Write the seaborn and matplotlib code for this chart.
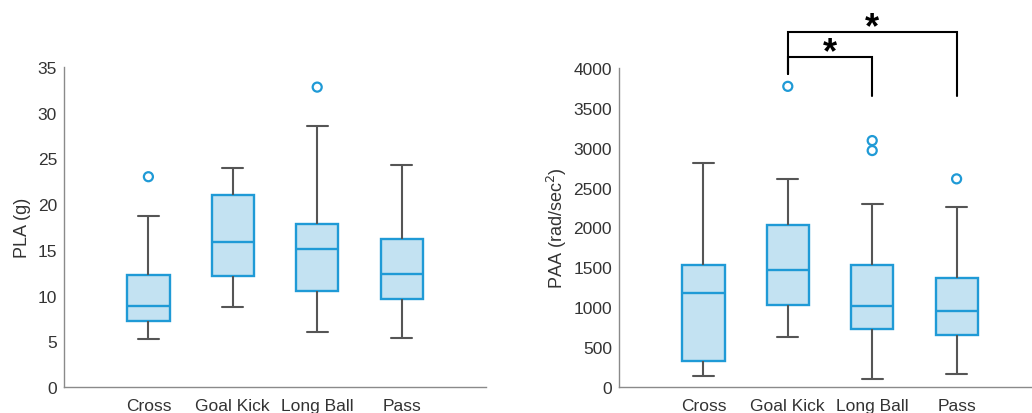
import numpy as np
import pandas as pd
import matplotlib
matplotlib.use("Agg")
import matplotlib.pyplot as plt
import seaborn as sns

categories = ["Cross", "Goal Kick", "Long Ball", "Pass"]

# PLA (g) box statistics
pla_low = [5.3, 8.8, 6.0, 5.4]
pla_q1 = [7.2, 12.1, 10.5, 9.6]
pla_med = [8.9, 15.9, 15.1, 12.4]
pla_q3 = [12.2, 21.0, 17.8, 16.2]
pla_high = [18.7, 23.9, 28.6, 24.3]
pla_out_cat = ["Cross", "Long Ball"]
pla_out_val = [23.0, 32.8]

# PAA (rad/sec^2) box statistics
paa_low = [135, 630, 105, 160]
paa_q1 = [320, 1030, 730, 650]
paa_med = [1175, 1465, 1010, 950]
paa_q3 = [1530, 2035, 1525, 1365]
paa_high = [2810, 2610, 2295, 2255]
paa_out_cat = ["Goal Kick", "Long Ball", "Long Ball", "Pass"]
paa_out_val = [3770, 3090, 2965, 2610]

# significance brackets
sig_from = ["Goal Kick", "Goal Kick"]
sig_to = ["Long Ball", "Pass"]
sig_bar = [4140, 4450]
sig_start = [3920, 3920]
sig_end = [3645, 3645]
sig_label = ["*", "*"]

EDGE = "#1f9ad6"
FILL = "#c3e2f2"
WHISK = "#555555"
SPINE = "#8a8a8a"
TXT = "#333333"

sns.set_style("white")
plt.rcParams["font.family"] = ["Liberation Sans", "DejaVu Sans"]


def long_df(low, q1, med, q3, high):
    rows = []
    for i, c in enumerate(categories):
        for v in (low[i], q1[i], med[i], q3[i], high[i]):
            rows.append((c, v))
    return pd.DataFrame(rows, columns=["cat", "val"])


def draw(ax, df, out_cat, out_val, ylim, yticks, ylabel):
    sns.boxplot(data=df, x="cat", y="val", order=categories, ax=ax,
                width=0.5, whis=(0, 100), fliersize=0, linewidth=1.6,
                boxprops=dict(facecolor=FILL, edgecolor=EDGE, linewidth=1.7),
                medianprops=dict(color=EDGE, linewidth=1.7),
                whiskerprops=dict(color=WHISK, linewidth=1.5),
                capprops=dict(color=WHISK, linewidth=1.5))
    n0 = len(ax.collections)
    odf = pd.DataFrame({"cat": out_cat, "val": out_val})
    sns.stripplot(data=odf, x="cat", y="val", order=categories, ax=ax,
                  jitter=False, color=EDGE, size=6.5, linewidth=1.6,
                  edgecolor=EDGE, zorder=5)
    for coll in ax.collections[n0:]:
        coll.set_facecolor("none")
        coll.set_edgecolor(EDGE)
        coll.set_linewidth(1.6)
    ax.set_xlim(-1, 4)
    ax.set_ylim(*ylim)
    ax.set_yticks(yticks)
    ax.set_xlabel("")
    ax.set_ylabel(ylabel, fontsize=13, color=TXT)
    sns.despine(ax=ax)
    for s in ("left", "bottom"):
        ax.spines[s].set_color(SPINE)
        ax.spines[s].set_linewidth(1.0)
    ax.tick_params(direction="in", length=4, width=0.8, color=SPINE,
                   labelsize=12.5, labelcolor=TXT, pad=5)
    ax.tick_params(axis="x", pad=8)


fig = plt.figure(figsize=(10.32, 4.14), dpi=100)
ax1 = fig.add_axes([64 / 1032, 26 / 414, 422 / 1032, 320 / 414])
ax2 = fig.add_axes([619 / 1032, 26 / 414, 422 / 1032, 319 / 414])

draw(ax1, long_df(pla_low, pla_q1, pla_med, pla_q3, pla_high),
     pla_out_cat, pla_out_val, (0, 35), np.arange(0, 36, 5), "PLA (g)")
draw(ax2, long_df(paa_low, paa_q1, paa_med, paa_q3, paa_high),
     paa_out_cat, paa_out_val, (0, 4000), np.arange(0, 4001, 500),
     "PAA (rad/sec$^2$)")
ax1.yaxis.labelpad = 5
ax2.yaxis.labelpad = 3

for f, t, bar, st, en, lab in zip(sig_from, sig_to, sig_bar, sig_start,
                                  sig_end, sig_label):
    x0 = categories.index(f)
    x1 = categories.index(t)
    ax2.plot([x0, x0, x1, x1], [st, bar, bar, en], color="black",
             lw=1.5, clip_on=False, solid_joinstyle="miter")
    ax2.text((x0 + x1) / 2, bar - 170, lab, ha="center", va="bottom",
             fontsize=26, fontweight="bold", color="black", clip_on=False)

fig.savefig("out.png", dpi=100)
